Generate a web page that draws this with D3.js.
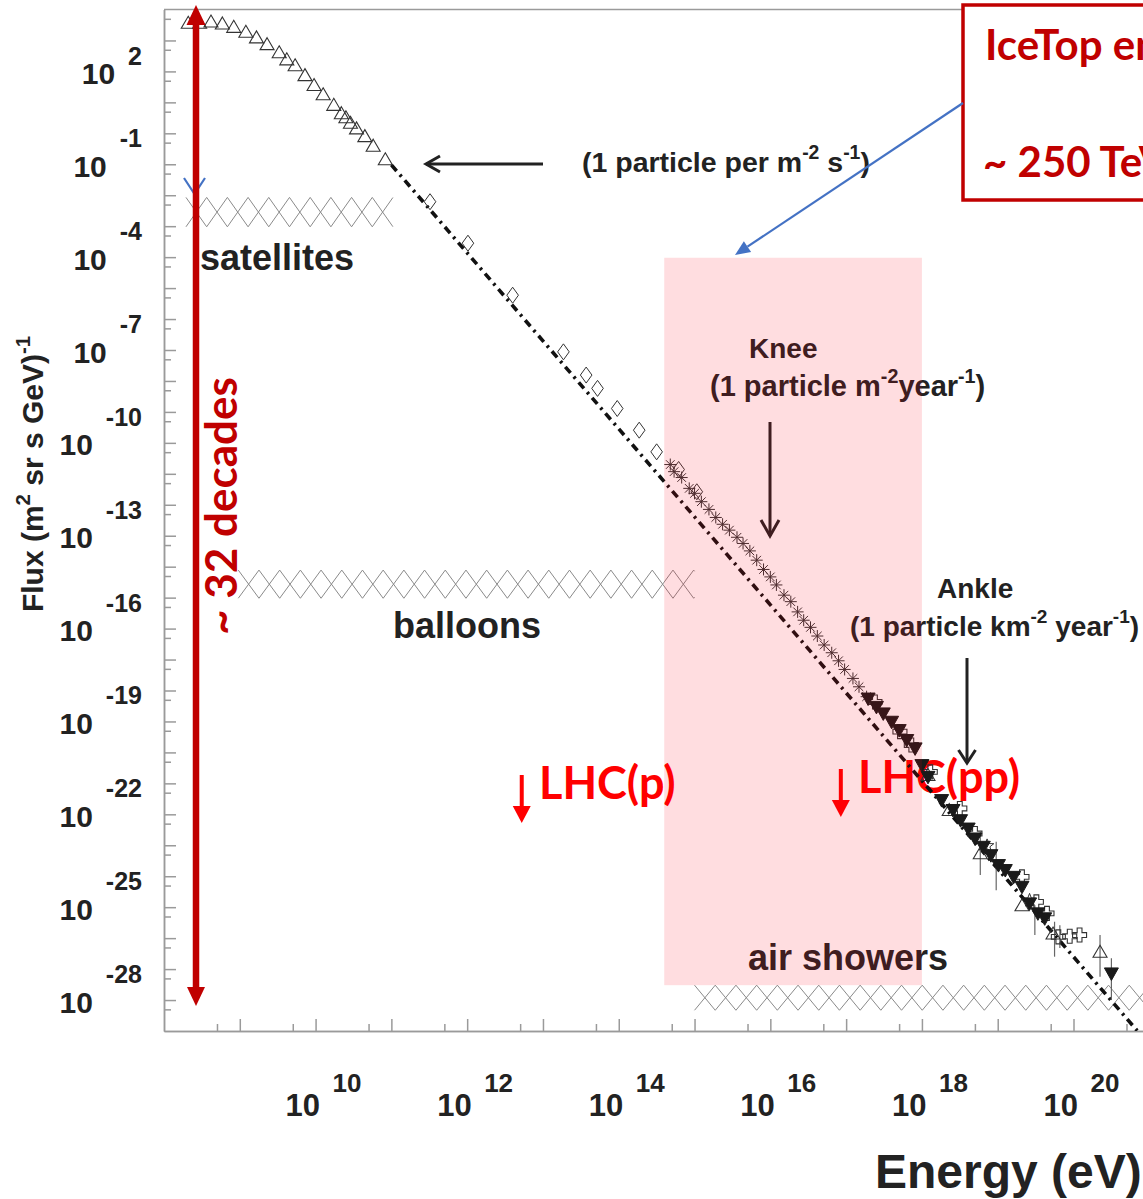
<!DOCTYPE html>
<html>
<head>
<meta charset="utf-8">
<script src="https://cdn.jsdelivr.net/npm/d3@7"></script>
<style>
  html, body { margin: 0; padding: 0; background: #fff; overflow: hidden; }
  svg { display: block; }
  .hv { font-family: "Liberation Sans", Arial, sans-serif; font-weight: bold; white-space: pre; }
  .cb { font-family: Lato, "Open Sans", sans-serif; font-weight: bold; white-space: pre; }
</style>
</head>
<body>
<svg id="chart" width="1143" height="1199"></svg>
<script>
// ---------------- data (log10 E in eV, log10 flux in (m^2 sr s GeV)^-1) ----------------
// direct measurements at low energy (open triangles)
const directLogE = [8.32, 8.47, 8.62, 8.77, 8.92, 9.08, 9.22, 9.36, 9.52, 9.62, 9.73, 9.86, 9.98, 10.10, 10.24, 10.34, 10.40, 10.46, 10.54, 10.65, 10.76, 10.92];
const directLogF = [3.57, 3.57, 3.61, 3.55, 3.44, 3.28, 3.10, 2.88, 2.62, 2.39, 2.20, 1.88, 1.56, 1.26, 0.92, 0.65, 0.52, 0.34, 0.16, -0.09, -0.40, -0.84];

// balloon / satellite range (open diamonds)
const diamondLogE = [11.51, 12.01, 12.60, 13.27, 13.57, 13.72, 13.98, 14.27, 14.50, 14.79, 15.03];
const diamondLogF = [-2.21, -3.55, -5.23, -7.06, -7.81, -8.24, -8.89, -9.59, -10.29, -10.86, -11.58];

// knee region (asterisks)
const kneeLogE = [14.68, 14.73, 14.83, 14.93, 15.00, 15.09, 15.19, 15.28, 15.37, 15.46, 15.56, 15.64, 15.73, 15.82, 15.91, 16.00, 16.08, 16.18, 16.27, 16.36, 16.44, 16.53, 16.62, 16.71, 16.81, 16.90, 16.98, 17.09, 17.17, 17.27];
const kneeLogF = [-10.70, -10.93, -11.12, -11.47, -11.63, -11.90, -12.15, -12.41, -12.63, -12.82, -13.05, -13.25, -13.49, -13.79, -14.09, -14.33, -14.59, -14.92, -15.13, -15.46, -15.73, -15.96, -16.24, -16.53, -16.78, -17.04, -17.32, -17.61, -17.88, -18.20];

// highest energies (filled down triangles)
const uheLogE = [17.29, 17.40, 17.49, 17.60, 17.70, 17.80, 17.91, 18.00, 18.08, 18.26, 18.41, 18.51, 18.61, 18.70, 18.81, 18.91, 19.01, 19.10, 19.21, 19.32, 19.42, 19.53, 19.62, 20.50];
const uheLogF = [-18.26, -18.53, -18.74, -19.01, -19.28, -19.60, -19.87, -20.41, -20.79, -21.54, -21.86, -22.19, -22.46, -22.78, -23.05, -23.32, -23.64, -23.80, -24.02, -24.34, -24.88, -25.20, -25.36, -27.14];

// highest energies (open crosses)
const crossLogE = [17.38, 17.71, 17.86, 18.11, 18.50, 18.70, 19.32, 19.51, 19.65, 19.80, 19.95, 20.08];
const crossLogF = [-18.37, -19.33, -19.76, -20.63, -21.81, -22.62, -24.02, -24.83, -25.20, -25.96, -25.94, -25.90];

// highest energies (open triangles)
const openTriLogE = [18.08, 18.36, 18.77, 19.32, 19.73, 20.35];
const openTriLogF = [-20.73, -21.86, -23.26, -24.94, -25.85, -26.44];

// highest energies (open stars)
const openStarLogE = [18.86, 19.42];
const openStarLogF = [-23.02, -24.78];

// vertical error bars
const errLogE  = [18.77, 18.98, 19.49, 19.75, 19.82, 20.35, 20.50];
const errLogLo = [-23.96, -24.45, -25.90, -26.60, -26.32, -27.25, -28.00];
const errLogHi = [-22.57, -22.89, -24.94, -25.47, -25.58, -25.90, -26.65];

// power-law reference (dash-dot)
const powerLawLogE = [11.00, 20.84];
const powerLawLogF = [-1.02, -28.99];

// experiment bands (hatched)
const bandNames  = ["satellites", "balloons", "air showers"];
const bandLogE0  = [8.29, 8.98, 15.00];
const bandLogE1  = [11.02, 15.00, 21.00];
const bandLogF0  = [-3.02, -15.02, -28.33];
const bandLogF1  = [-2.07, -14.11, -27.52];

// IceTop energy window (shaded)
const iceTopLogE = [14.60, 18.00];
const iceTopLogF = [-27.52, -4.02];

// collider equivalent energies
const lhcLabels = ["LHC(p)", "LHC(pp)"];
const lhcLogE   = [12.72, 16.93];

// tick labels (powers of ten)
const xLabelExp = [10, 12, 14, 16, 18, 20];
const yLabelExp = [2, -1, -4, -7, -10, -13, -16, -19, -22, -25, -28];

// ---------------- scales ----------------
const svg = d3.select("#chart");
const x = d3.scaleLog().domain([1e8, 1e21]).range([164, 1149.3]);
const y = d3.scaleLog().domain([1e-29, 1e4]).range([1031, 9.5]);
const X = v => x(Math.pow(10, v));
const Y = v => y(Math.pow(10, v));

const ink = "#222";
const axisColor = "#9a9a9a";
const darkRed = "#C00000";

// ---------------- frame and axes ----------------
function styleAxis(g) {
  g.selectAll("path, line").attr("stroke", axisColor).attr("stroke-width", 1.5);
  g.selectAll("text").remove();
}
const yMajor = d3.range(-28, 4).map(n => Math.pow(10, n));
const yMinor = d3.range(-28, 5).map(n => 5 * Math.pow(10, n - 1));
const xMajor = d3.range(9, 21).map(n => Math.pow(10, n));
const xMinor = d3.range(9, 22).map(n => 5 * Math.pow(10, n - 1));

svg.append("g").attr("transform", "translate(164,0)")
  .call(d3.axisRight(y).tickValues(yMajor).tickSize(12).tickSizeOuter(0).tickFormat(""))
  .call(styleAxis);
svg.append("g").attr("transform", "translate(164,0)")
  .call(d3.axisRight(y).tickValues(yMinor).tickSize(7).tickSizeOuter(0).tickFormat(""))
  .call(styleAxis);
svg.append("g").attr("transform", "translate(0,1031)")
  .call(d3.axisTop(x).tickValues(xMajor).tickSize(12).tickSizeOuter(0).tickFormat(""))
  .call(styleAxis);
svg.append("g").attr("transform", "translate(0,1031)")
  .call(d3.axisTop(x).tickValues(xMinor).tickSize(7).tickSizeOuter(0).tickFormat(""))
  .call(styleAxis);
// top and right edges of the frame
svg.append("path")
  .attr("d", `M164,${y.range()[1]}H${x.range()[1]}V${y.range()[0]}`)
  .attr("fill", "none").attr("stroke", axisColor).attr("stroke-width", 1.5);

// y tick labels: 10 with exponent
yLabelExp.forEach(e => {
  const ty = Y(e);
  const sup = svg.append("text").attr("class", "hv")
    .attr("x", 142).attr("y", e >= 0 ? ty - 6 : ty - 17)
    .attr("text-anchor", "end").attr("font-size", 25).attr("fill", ink)
    .text(String(e));
  const w = sup.node().getComputedTextLength();
  svg.append("text").attr("class", "hv")
    .attr("x", 142 - w - 13).attr("y", ty + 12.5)
    .attr("text-anchor", "end").attr("font-size", 30).attr("fill", ink)
    .text("10");
});

// x tick labels
xLabelExp.forEach(e => {
  const tx = X(e);
  svg.append("text").attr("class", "hv")
    .attr("x", tx + 4.5).attr("y", 1116).attr("text-anchor", "end")
    .attr("font-size", 31).attr("fill", ink).text("10");
  svg.append("text").attr("class", "hv")
    .attr("x", tx + 17).attr("y", 1092).attr("text-anchor", "start")
    .attr("font-size", 26).attr("fill", ink).text(String(e));
});

// rich text helper: parts = [[string, isSuperscript], ...]
function rich(parent, x0, y0, parts, size, fill, cls, anchor) {
  const t = parent.append("text").attr("class", cls)
    .attr("x", x0).attr("y", y0).attr("font-size", size).attr("fill", fill)
    .attr("text-anchor", anchor || "start");
  let raised = false;
  parts.forEach(p => {
    const ts = t.append("tspan").text(p[0]);
    if (p[1]) {
      ts.attr("font-size", size * 0.68).attr("dy", raised ? 0 : -size * 0.45);
      raised = true;
    } else if (raised) {
      ts.attr("dy", size * 0.45);
      raised = false;
    }
  });
  return t;
}

// axis titles
const yTitle = svg.append("g").attr("transform", "translate(43,474) rotate(-90)");
rich(yTitle, 0, 0, [["Flux (m", 0], ["2", 1], [" sr s GeV)", 0], ["-1", 1]], 30, ink, "hv", "middle");
svg.append("text").attr("class", "hv").attr("x", 875).attr("y", 1188)
  .attr("font-size", 48).attr("fill", ink).text("Energy (eV)");

// ---------------- hatched experiment bands ----------------
const clipId = "plotClip";
svg.append("clipPath").attr("id", clipId).append("rect")
  .attr("x", x.range()[0]).attr("y", y.range()[1])
  .attr("width", x.range()[1] - x.range()[0]).attr("height", y.range()[0] - y.range()[1]);

const hatch = svg.append("g").attr("clip-path", `url(#${clipId})`);
bandNames.forEach((name, i) => {
  const x0 = X(bandLogE0[i]), x1 = X(bandLogE1[i]);
  const yTop = Y(bandLogF1[i]), yBot = Y(bandLogF0[i]);
  const cell = 20.7;
  const n = Math.ceil((x1 - x0) / cell);
  let d = "";
  for (let k = 0; k < n; k++) {
    const xa = x0 + k * cell, xb = Math.min(xa + cell, x1);
    const frac = (xb - xa) / cell;
    // "\" line and "/" line across one cell, trimmed at the band's right end
    d += `M${xa},${yTop}L${xb},${yTop + (yBot - yTop) * frac}`;
    d += `M${xa},${yBot}L${xb},${yBot - (yBot - yTop) * frac}`;
  }
  hatch.append("path").attr("d", d).attr("fill", "none")
    .attr("stroke", "#8a8a8a").attr("stroke-width", 1);
});

// band labels
svg.append("text").attr("class", "hv").attr("x", 200).attr("y", 270)
  .attr("font-size", 36).attr("fill", ink).text(bandNames[0]);
svg.append("text").attr("class", "hv").attr("x", 393).attr("y", 638)
  .attr("font-size", 36).attr("fill", ink).text(bandNames[1]);
svg.append("text").attr("class", "hv").attr("x", 748).attr("y", 970)
  .attr("font-size", 36).attr("fill", ink).text(bandNames[2]);

// ---------------- collider labels (beneath the data) ----------------
const lhcTextX = [539, 858], lhcTextY = [799, 793];
const lhcArrowTop = [775, 769];
lhcLabels.forEach((lab, i) => {
  const ax = X(lhcLogE[i]);
  const top = lhcArrowTop[i], tip = top + 48;
  svg.append("line").attr("x1", ax).attr("x2", ax).attr("y1", top).attr("y2", tip - 14)
    .attr("stroke", "#FF0000").attr("stroke-width", 4);
  svg.append("path").attr("d", `M${ax - 9},${tip - 17}L${ax + 9},${tip - 17}L${ax},${tip}Z`)
    .attr("fill", "#FF0000");
  svg.append("text").attr("class", "cb").attr("x", lhcTextX[i]).attr("y", lhcTextY[i])
    .attr("font-size", 45).attr("fill", "#FF0000").text(lab);
});

// ---------------- power-law reference line ----------------
svg.append("g").attr("clip-path", `url(#${clipId})`).append("path")
  .datum(powerLawLogE.map((e, i) => [e, powerLawLogF[i]]))
  .attr("d", d3.line().x(d => X(d[0])).y(d => Y(d[1])))
  .attr("fill", "none").attr("stroke", "#111").attr("stroke-width", 3.6)
  .attr("stroke-dasharray", "8 5 2.5 5");

// ---------------- error bars ----------------
svg.append("g").selectAll("line").data(errLogE).join("line")
  .attr("x1", d => X(d)).attr("x2", d => X(d))
  .attr("y1", (d, i) => Y(errLogHi[i])).attr("y2", (d, i) => Y(errLogLo[i]))
  .attr("stroke", "#666").attr("stroke-width", 1.2);

// ---------------- markers ----------------
const shapes = {
  triUp: "M0,-6.5L7,5.5L-7,5.5Z",
  triDown: "M-7,-5.5L7,-5.5L0,7Z",
  diamond: "M0,-8L5.8,0L0,8L-5.8,0Z",
  asterisk: "M-6,0H6M0,-6V6M-4.3,-4.3L4.3,4.3M-4.3,4.3L4.3,-4.3",
  cross: "M-2.4,-7H2.4V-2.4H7V2.4H2.4V7H-2.4V2.4H-7V-2.4H-2.4Z",
  star: "M0,-7L1.8,-2.3L6.7,-2.2L2.8,0.9L4.2,5.7L0,2.9L-4.2,5.7L-2.8,0.9L-6.7,-2.2L-1.8,-2.3Z"
};
function markers(logE, logF, shape, filled, stroke, sw) {
  svg.append("g").selectAll("path").data(logE).join("path")
    .attr("transform", (d, i) => `translate(${X(d)},${Y(logF[i])})`)
    .attr("d", shapes[shape])
    .attr("fill", filled ? stroke : "none")
    .attr("stroke", stroke).attr("stroke-width", sw);
}
markers(directLogE, directLogF, "triUp", false, "#333", 1.1);
markers(diamondLogE, diamondLogF, "diamond", false, "#333", 1);
markers(kneeLogE, kneeLogF, "asterisk", false, "#333", 1);
markers(crossLogE, crossLogF, "cross", false, "#333", 1.1);
markers(openTriLogE, openTriLogF, "triUp", false, "#333", 1.1);
markers(openStarLogE, openStarLogF, "star", false, "#333", 1);
markers(uheLogE, uheLogF, "triDown", true, "#1a1a1a", 1);

// ---------------- annotations ----------------
function arrowLine(x1, y1, x2, y2, head, halfW, color, width) {
  const g = svg.append("g").attr("stroke", color).attr("stroke-width", width)
    .attr("fill", "none").attr("stroke-linecap", "butt");
  g.append("line").attr("x1", x1).attr("y1", y1).attr("x2", x2).attr("y2", y2);
  const len = Math.hypot(x2 - x1, y2 - y1);
  const ux = (x2 - x1) / len, uy = (y2 - y1) / len;
  const bx = x2 - ux * head, by = y2 - uy * head;
  g.append("path").attr("d",
    `M${bx - uy * halfW},${by + ux * halfW}L${x2},${y2}L${bx + uy * halfW},${by - ux * halfW}`);
}

// one particle per m^2 per second
arrowLine(543, 164, 426, 164, 14, 8, ink, 3);
rich(svg, 582, 172, [["(1 particle per m", 0], ["-2", 1], [" s", 0], ["-1", 1], [")", 0]], 28.5, ink, "hv");

// knee
svg.append("text").attr("class", "hv").attr("x", 749).attr("y", 358)
  .attr("font-size", 28).attr("fill", ink).text("Knee");
rich(svg, 710, 396, [["(1 particle m", 0], ["-2", 1], ["year", 0], ["-1", 1], [")", 0]], 29, ink, "hv");
arrowLine(770, 422, 770, 536, 16, 9, ink, 3);

// ankle
svg.append("text").attr("class", "hv").attr("x", 937).attr("y", 598)
  .attr("font-size", 28).attr("fill", ink).text("Ankle");
rich(svg, 850, 636, [["(1 particle km", 0], ["-2", 1], [" year", 0], ["-1", 1], [")", 0]], 28, ink, "hv");
arrowLine(967, 658, 967, 763, 13, 8.5, ink, 3);

// ---------------- IceTop window (translucent overlay) ----------------
svg.append("rect")
  .attr("x", X(iceTopLogE[0])).attr("y", Y(iceTopLogF[1]))
  .attr("width", X(iceTopLogE[1]) - X(iceTopLogE[0]))
  .attr("height", Y(iceTopLogF[0]) - Y(iceTopLogF[1]))
  .attr("fill", "rgb(255,0,25)").attr("fill-opacity", 0.135);

// small blue chevron on the dynamic-range arrow
svg.append("path").attr("d", "M184,178L194.5,194L205,178")
  .attr("fill", "none").attr("stroke", "#4472C4").attr("stroke-width", 2.2);

// ~32 decades double arrow
svg.append("line").attr("x1", 196).attr("x2", 196).attr("y1", 22).attr("y2", 990)
  .attr("stroke", darkRed).attr("stroke-width", 6.5);
svg.append("path").attr("d", "M196,5L205.5,25L186.5,25Z").attr("fill", darkRed);
svg.append("path").attr("d", "M196,1006L205,987L187,987Z").attr("fill", darkRed);
svg.append("text").attr("class", "cb")
  .attr("transform", "translate(237,506) rotate(-90)")
  .attr("text-anchor", "middle").attr("font-size", 44).attr("fill", darkRed)
  .text("~ 32 decades");

// IceTop box and pointer
svg.append("rect").attr("x", 963).attr("y", 5).attr("width", 320).attr("height", 195)
  .attr("fill", "#fff").attr("stroke", darkRed).attr("stroke-width", 3.5);
svg.append("text").attr("class", "cb").attr("x", 985).attr("y", 60)
  .attr("font-size", 42).attr("fill", darkRed).text("IceTop energy range");
svg.append("text").attr("class", "cb").attr("x", 983).attr("y", 177)
  .attr("font-size", 42).attr("fill", darkRed).text("~ 250 TeV \u2013 1 EeV");

(function () {
  const x1 = 963, y1 = 103, x2 = 735, y2 = 255;
  const len = Math.hypot(x2 - x1, y2 - y1);
  const ux = (x2 - x1) / len, uy = (y2 - y1) / len;
  const bx = x2 - ux * 15, by = y2 - uy * 15;
  svg.append("line").attr("x1", x1).attr("y1", y1).attr("x2", bx).attr("y2", by)
    .attr("stroke", "#4472C4").attr("stroke-width", 2.2);
  svg.append("path").attr("d",
    `M${x2},${y2}L${bx - uy * 6.5},${by + ux * 6.5}L${bx + uy * 6.5},${by - ux * 6.5}Z`)
    .attr("fill", "#4472C4");
})();
</script>
</body>
</html>
